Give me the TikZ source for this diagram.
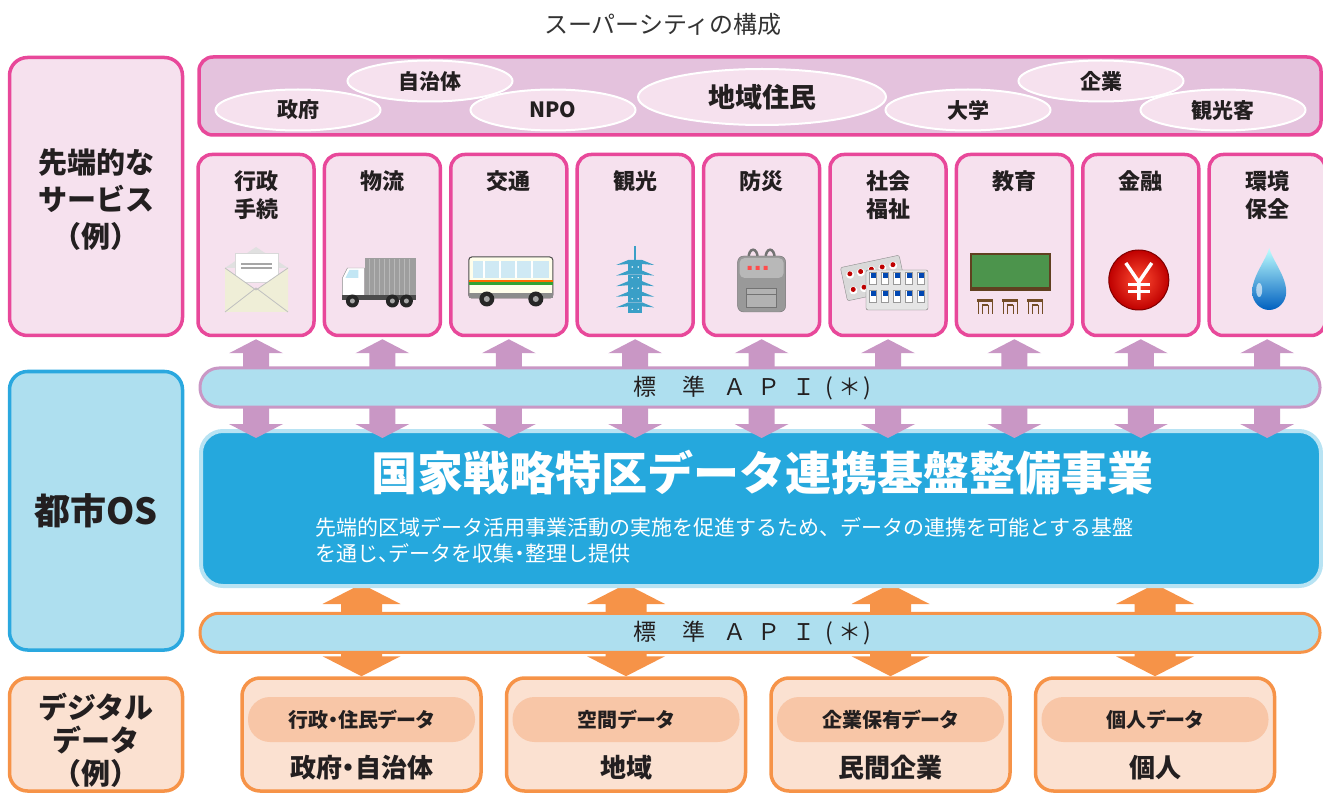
\documentclass[tikz,border=0pt]{standalone}
\usepackage{fontspec}
\setmainfont{Noto Sans CJK JP}
\usetikzlibrary{shapes.geometric,calc}
\pgfdeclarelayer{background}
\pgfsetlayers{background,main}

\definecolor{ink}{HTML}{231F20}
\definecolor{titlegray}{HTML}{333333}
\definecolor{pinkline}{HTML}{E8489A}
\definecolor{pinkfill}{HTML}{F6E1EE}
\definecolor{bandfill}{HTML}{E4C2DD}
\definecolor{blueline}{HTML}{2AA8DF}
\definecolor{lightblue}{HTML}{AEDFEF}
\definecolor{mauve}{HTML}{C997C5}
\definecolor{corefill}{HTML}{25A8DD}
\definecolor{coreedge}{HTML}{B8E3F3}
\definecolor{orangeline}{HTML}{F69348}
\definecolor{peach}{HTML}{FBE1D1}
\definecolor{pillfill}{HTML}{F8C6A7}
\definecolor{pagoda}{HTML}{3A9FC7}

% vertical double arrow: #1 colour, #2 upper tip, #3 lower tip,
% #4 head half width, #5 shaft half width, #6 head length
\newcommand\fatarrow[6]{%
  \fill[#1] let \p1=#2, \p2=#3 in
    (\x1,\y1) -- (\x1+#4,\y1-#6) -- (\x1+#5,\y1-#6) -- (\x1+#5,\y2+#6)
    -- (\x1+#4,\y2+#6) -- (\x1,\y2) -- (\x1-#4,\y2+#6) -- (\x1-#5,\y2+#6)
    -- (\x1-#5,\y1-#6) -- (\x1-#4,\y1-#6) -- cycle;}

% spaced label of the standard API bars
\newcommand\apilabel{%
  \makebox[0pt]{標}\hspace{49pt}\makebox[0pt]{準}\hspace{41pt}%
  \makebox[0pt]{Ａ}\hspace{34pt}\makebox[0pt]{Ｐ}\hspace{35pt}%
  \makebox[0pt]{Ｉ}\hspace{25pt}\makebox[0pt]{(}\hspace{21pt}%
  \makebox[0pt]{＊}\hspace{17pt}\makebox[0pt]{)}}

\begin{document}
\begin{tikzpicture}[x=1pt,y=-1pt,
  every node/.style={inner sep=0pt,text=ink},
  lab/.style={font=\bfseries\fontsize{#1}{#1}\selectfont},
  labp/.style={font=\bfseries\fontsize{#1}{#1}\selectfont\addfontfeatures{RawFeature=+palt}},
  labls/.style 2 args={font=\bfseries\fontsize{#1}{#2}\selectfont,align=center},
  sidepink/.style={draw=pinkline,fill=pinkfill,line width=3.5pt,rounded corners=18pt,
    minimum width=173pt},
  svcbox/.style={draw=pinkline,fill=pinkfill,line width=3.5pt,rounded corners=14pt,
    minimum width=116pt,minimum height=181pt},
  who/.style={ellipse,draw=white,line width=2pt,fill=pinkfill,
    minimum width=165pt,minimum height=41pt},
  apibar/.style={fill=lightblue,line width=3pt,rounded corners=19pt,
    minimum width=1120pt,minimum height=39pt},
  databox/.style={draw=orangeline,fill=peach,line width=3.5pt,rounded corners=18pt,
    minimum width=239pt,minimum height=113pt},
  pill/.style={fill=pillfill,rounded corners=22pt,minimum width=227pt,minimum height=45pt},
]
\useasboundingbox (0,0) rectangle (1323,794);

% heading
\node[font=\fontsize{24}{28}\selectfont,text=titlegray] (title) at (663,24) {スーパーシティの構成};

% ---------- services layer ----------
\node[sidepink,minimum height=278pt] (svcL) at (96,196.5) {};
\node[labls={29}{37}] (svcLt) at ($(svcL.center)+(0,3)$) {先端的な\\サービス\\（例）};

\node[draw=pinkline,fill=bandfill,line width=3.5pt,rounded corners=14pt,
  minimum width=1122pt,minimum height=78pt] (band) at (760,96) {};
\node[who] (w1) at (298,110) {}; \node[lab=21] at (w1) {政府};
\node[who] (w2) at (430,81) {};  \node[lab=21] at (w2) {自治体};
\node[who] (w3) at (553,110) {}; \node[lab=21] at (w3) {NPO};
\node[who,minimum width=248pt,minimum height=56pt] (w4) at (762,97) {}; \node[lab=27] at (w4) {地域住民};
\node[who] (w5) at (968,110) {}; \node[lab=21] at (w5) {大学};
\node[who] (w6) at (1101,81) {}; \node[lab=21] at (w6) {企業};
\node[who] (w7) at (1223,110) {}; \node[lab=21] at (w7) {観光客};

\foreach \i/\t in {1/{行政\\手続},2/物流,3/交通,4/観光,5/防災,6/{社会\\福祉},7/教育,8/金融,9/{環境\\保全}}{
  \node[svcbox] (s\i) at ({256+126.4*(\i-1)},245) {};
  \node[labls={22}{28},anchor=north] (s\i t) at ($(s\i.north)+(0,18)$) {\t};
}

% icons
\begin{scope}[shift={($(s1.center)+(0,35)$)}]
  \fill[black!12!white] (-31,-12) -- (0,-33) -- (32,-12) -- cycle;
  \filldraw[fill=white,draw=black!15] (-21,-27) rectangle (22,2);
  \draw[black!35,line width=1.2pt] (-15,-16) -- (16,-16) (-15,-12) -- (16,-12);
  \fill[black!8!white!90!yellow] (-31,-12) -- (0,10) -- (32,-12) -- (32,32) -- (-31,32) -- cycle;
  \draw[black!25,line width=0.8pt] (-31,32) -- (0,8) -- (32,32) (-31,-12) -- (0,10) -- (32,-12);
\end{scope}
\begin{scope}[shift={($(s2.center)+(0,35)$)}]
  \fill[black!38] (-17,-22) rectangle (34,17);
  \foreach \xx in {-13,-8,...,31} \draw[black!28,line width=0.7pt] (\xx,-21) -- (\xx,16);
  \filldraw[fill=white,draw=black!45] (-40,18) -- (-40,-2) -- (-35,-12) -- (-18,-12) -- (-18,18) -- cycle;
  \fill[black!15!cyan!25] (-37,-2) -- (-33,-10) -- (-24,-10) -- (-24,-2) -- cycle;
  \fill[black!70] (-40,15) rectangle (34,20);
  \foreach \xx in {-30,10,24}{\fill[black!85] (\xx,21) circle[radius=6.5];\fill[black!35] (\xx,21) circle[radius=2.5];}
\end{scope}
\begin{scope}[shift={($(s3.center)+(0,35)$)}]
  \filldraw[fill=yellow!8!white,draw=black!70,line width=1pt,rounded corners=3pt] (-40,-23) rectangle (44,18);
  \fill[black!20!cyan!20] (-36,-19) rectangle (40,-2);
  \foreach \xx in {-25,-9,7,23} \draw[white,line width=2pt] (\xx,-19) -- (\xx,-2);
  \fill[orange!85!red] (-40,0) rectangle (44,2.5);
  \fill[green!55!black!80] (-40,2.5) rectangle (44,5);
  \fill[black!45] (-40,13) rectangle (44,18);
  \foreach \xx in {-22,27}{\fill[black!85] (\xx,19) circle[radius=7.5];\fill[black!35] (\xx,19) circle[radius=3];}
\end{scope}
\begin{scope}[shift={($(s4.center)+(0,35)$)}]
  \draw[pagoda,line width=1.5pt] (0,-34) -- (0,-20);
  \foreach \k in {0,...,4}{
    \pgfmathsetmacro\yy{-20+10.6*\k}
    \fill[pagoda] (-19,\yy+5) -- (-7,\yy) -- (7,\yy) -- (19,\yy+5) -- (7,\yy+4) -- (-7,\yy+4) -- cycle;
    \fill[pagoda] (-7,\yy+4) rectangle (7,\yy+10.6);
    \fill[white] (-3,\yy+7) circle[radius=0.8] (3,\yy+7) circle[radius=0.8];
  }
\end{scope}
\begin{scope}[shift={($(s5.center)+(0,35)$)}]
  \draw[black!55,line width=2.5pt] (-13,-22) .. controls (-13,-33) and (-4,-33) .. (-4,-22)
    (4,-22) .. controls (4,-33) and (13,-33) .. (13,-22);
  \filldraw[fill=black!40,draw=black!55,rounded corners=6pt] (-24,-24) rectangle (24,32);
  \fill[black!28,rounded corners=5pt] (-22,-22) rectangle (22,-2);
  \fill[red!70] (-14,-14) rectangle (-10,-10) (-6,-14) rectangle (-2,-10) (2,-14) rectangle (6,-10);
  \filldraw[fill=black!30,draw=black!55] (-15,8) rectangle (15,27);
  \draw[black!55] (-15,14) -- (15,14);
\end{scope}
\begin{scope}[shift={($(s6.center)+(0,35)$)}]
  \begin{scope}[rotate=12]
    \filldraw[fill=black!15,draw=black!45,rounded corners=2pt] (-44,-22) rectangle (16,12);
    \foreach \xx in {-36,-25,-14,-3,8}\foreach \yy in {-13,3}
      {\fill[white] (\xx,\yy) circle[radius=4];\fill[red!75!black] (\xx,\yy-1) circle[radius=2.5];}
  \end{scope}
  \filldraw[fill=black!10,draw=black!55,rounded corners=2pt] (-22,-10) rectangle (40,30);
  \foreach \xx in {-15,-3,9,21,33}\foreach \yy in {-3,15}
    {\filldraw[fill=white,draw=black!40] (\xx-3.5,\yy-4.5) rectangle (\xx+3.5,\yy+7);
     \fill[blue!60!cyan!70!black] (\xx-2.5,\yy-3.5) rectangle (\xx+2.5,\yy+1);}
\end{scope}
\begin{scope}[shift={($(s7.center)+(0,35)$)}]
  \filldraw[fill=green!40!black!70!white,draw=brown!50!black,line width=2pt] (-43,-26) rectangle (36,8);
  \fill[brown!50!black] (-44,8) rectangle (37,11);
  \foreach \xx in {-29,-4,21}{
    \fill[brown!60!black] (\xx-8,19) rectangle (\xx+8,22);
    \draw[brown!60!black,line width=1.2pt] (\xx-7,22) -- (\xx-7,34) (\xx+7,22) -- (\xx+7,34)
      (\xx-3,25) -- (\xx-3,34) (\xx+3,25) -- (\xx+3,34) (\xx-3,25) -- (\xx+3,25);
  }
\end{scope}
\begin{scope}[shift={($(s8.center)+(0,35)$)}]
  \shade[inner color=red!75!orange!80,outer color=red!75!black] (-2,0) circle[radius=30];
  \draw[red!50!black,line width=1pt] (-2,0) circle[radius=30];
  \draw[white,line width=3.5pt] (-15,-17) -- (-2,2) -- (11,-17) (-2,2) -- (-2,20);
  \draw[white,line width=3pt] (-13,5) -- (9,5) (-13,12) -- (9,12);
\end{scope}
\begin{scope}[shift={($(s9.center)+(0,35)$)}]
  \shade[top color=cyan!25,bottom color=cyan!50!blue!75!black]
    (2,-32) .. controls (5,-20) and (19,-4) .. (19,12) .. controls (19,22) and (11,30) .. (2,30)
    .. controls (-7,30) and (-15,22) .. (-15,12) .. controls (-15,-4) and (-1,-20) .. (2,-32) -- cycle;
  \fill[white,opacity=0.6] (-8,10) ellipse[x radius=3,y radius=7];
\end{scope}

% ---------- city OS layer ----------
\node[draw=blueline,fill=lightblue,line width=3.5pt,rounded corners=18pt,
  minimum width=173pt,minimum height=278.5pt] (osL) at (96,510.75) {};
\node[lab=36] (osLt) at (osL.center) {都市OS};

\node[draw=coreedge,fill=corefill,line width=4pt,rounded corners=22pt,
  minimum width=1120pt,minimum height=155pt] (core) at (761,508.5) {};
\node[lab=46,text=white] (coret) at (762,473) {国家戦略特区データ連携基盤整備事業};
\node[font=\fontsize{21}{26}\selectfont,text=white,align=left,anchor=west] (cores) at (315,540)
  {先端的区域データ活用事業活動の実施を促進するため、データの連携を可能とする基盤\\を通じ{\addfontfeatures{RawFeature=+palt}、}データを収集{\addfontfeatures{RawFeature=+palt}・}整理し提供};

% API arrows (pink) between services and the platform
\foreach \i in {1,...,9}{%
  \fatarrow{mauve}{($(s\i.south)+(0,2)$)}{($(s\i.south |- core.north)+(0,9)$)}{27pt}{13pt}{14pt}}

\node[apibar,draw=mauve] (api1) at (760,387.5) {};
\node[font=\fontsize{23}{23}\selectfont] (api1t) at (756,388) {\apilabel};

% ---------- data layer ----------
\node[sidepink,draw=orangeline,fill=peach,minimum height=113pt] (digL) at (96,734.5) {};
\node[labls={29}{33}] (digLt) at ($(digL.center)+(0,6)$) {デジタル\\データ\\（例）};

\foreach \i/\a/\b in {1/行政・住民データ/政府・自治体,2/空間データ/地域,3/企業保有データ/民間企業,4/個人データ/個人}{
  \node[databox] (b\i) at ({361.5+264.5*(\i-1)},734.5) {};
  \node[pill] (p\i) at ($(b\i.center)+(0,-15)$) {};
  \node[labp=20] (p\i t) at (p\i) {\a};
  \node[labp=26] (b\i t) at ($(b\i.center)+(0,33)$) {\b};
}

\begin{pgfonlayer}{background}
  \foreach \i in {1,...,4}{%
    \fatarrow{orangeline}{($(b\i.north |- core.south)+(0,-4)$)}{(b\i.north)}{39pt}{20.5pt}{20pt}}
\end{pgfonlayer}

\node[apibar,draw=orangeline] (api2) at (760,632.75) {};
\node[font=\fontsize{23}{23}\selectfont] (api2t) at (756,633) {\apilabel};
\end{tikzpicture}
\end{document}
